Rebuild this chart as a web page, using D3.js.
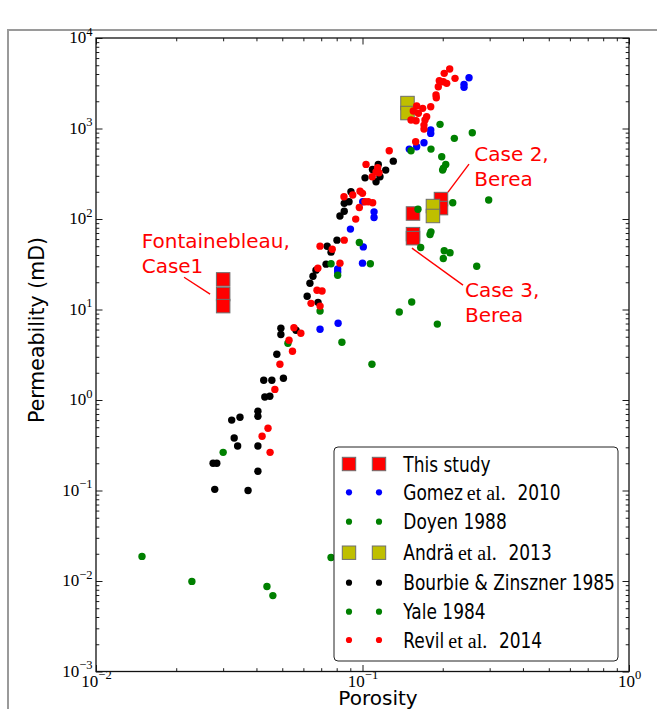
<!DOCTYPE html>
<html>
<head>
<meta charset="utf-8">
<script src="https://cdn.jsdelivr.net/npm/d3@7"></script>
<style>
  body { margin: 0; background: #fff; }
  svg { display: block; }
</style>
</head>
<body>
<svg id="chart" width="657" height="709"></svg>
<script>
// ---- data: [porosity (fraction), permeability (mD)] ----
const thisStudy = [
  [0.0300, 21.5], [0.0300, 14.8], [0.0300, 10.9],
  [0.1547, 115], [0.1547, 68], [0.1547, 61.4],
  [0.1970, 166], [0.1970, 132]
];
const gomez2010 = [
  [0.2510, 3639], [0.2404, 3076], [0.2404, 2850], [0.1803, 961], [0.1803, 883],
  [0.1701, 695], [0.1597, 628], [0.1498, 592], [0.1002, 155], [0.1105, 120],
  [0.1105, 104], [0.0901, 77.3], [0.1007, 49.2], [0.1000, 32.5], [0.0807, 28],
  [0.0807, 26], [0.0810, 7.05], [0.0693, 6.05]
];
const doyen1988 = [
  [0.1954, 1111], [0.2582, 897], [0.2211, 778], [0.1521, 567], [0.1807, 592],
  [0.1983, 487], [0.2053, 401], [0.1998, 347], [0.2012, 365], [0.2181, 151],
  [0.2975, 162], [0.1615, 128], [0.1807, 72.1], [0.1792, 67.5], [0.1653, 48.5],
  [0.2026, 44.5], [0.2130, 42.3], [0.2010, 36.6], [0.2683, 30.1]
];
const andra2013 = [
  [0.1475, 1910], [0.1475, 1482], [0.1838, 139], [0.1838, 108]
];
const bourbie1985 = [
  [0.1305, 436], [0.1146, 401], [0.1090, 353], [0.1222, 347], [0.1022, 285],
  [0.1124, 258], [0.1163, 293], [0.0905, 200], [0.0854, 149], [0.0890, 155],
  [0.0854, 122], [0.0823, 108], [0.0802, 58.4], [0.0737, 50], [0.0762, 43],
  [0.0730, 31.7], [0.0669, 27.2], [0.0652, 23.3], [0.0635, 19.5], [0.0620, 14],
  [0.0681, 12], [0.0563, 5.9], [0.0494, 6.2], [0.0494, 5.3], [0.0477, 3.2],
  [0.0505, 1.74], [0.0457, 1.65], [0.0426, 1.65], [0.0449, 1.1], [0.0430, 1.08],
  [0.0405, 0.75], [0.0405, 0.66], [0.0405, 0.31], [0.0405, 0.163], [0.0347, 0.644],
  [0.0340, 0.31], [0.0323, 0.6], [0.0330, 0.38], [0.0275, 0.2], [0.0284, 0.2],
  [0.0279, 0.103], [0.0372, 0.1]
];
const yale1984 = [
  [0.0973, 55.1], [0.1530, 12.1], [0.1374, 9.4], [0.1909, 6.9], [0.0837, 4.35],
  [0.1085, 2.48], [0.1070, 32], [0.0807, 23.9], [0.0762, 32], [0.0525, 4.24],
  [0.0300, 0.264], [0.01488, 0.0187], [0.0229, 0.0099], [0.0438, 0.0087],
  [0.0461, 0.0069], [0.0762, 0.0182], [0.0693, 9.6]
];
const revil2014 = [
  [0.2124, 4540], [0.2026, 4070], [0.2224, 3584], [0.1942, 3372], [0.2010, 3288],
  [0.2070, 3155], [0.1925, 2894], [0.1887, 2343], [0.1892, 2188], [0.1803, 1739],
  [0.1597, 1770], [0.1682, 1670], [0.1551, 1558], [0.1620, 1470], [0.1741, 1348],
  [0.1521, 1240], [0.1588, 1217], [0.1716, 1240], [0.1701, 1091], [0.1701, 985],
  [0.1583, 713], [0.1260, 567], [0.1031, 401], [0.1140, 368], [0.1124, 332],
  [0.1153, 324], [0.1088, 293], [0.0852, 176], [0.0919, 184], [0.0979, 203],
  [0.1000, 192], [0.1022, 155], [0.1051, 155], [0.1092, 151], [0.0973, 134],
  [0.0943, 99.7], [0.0854, 58.4], [0.0693, 50.1], [0.0770, 46.4], [0.0823, 32.5],
  [0.0680, 28.6], [0.0675, 16.3], [0.0705, 16], [0.0641, 11.7], [0.0693, 10.9],
  [0.0587, 5.47], [0.0553, 6.3], [0.0530, 4.57], [0.0546, 3.46], [0.0490, 2.48],
  [0.0469, 1.31], [0.0442, 0.487], [0.0420, 0.397], [0.0450, 0.264]
];

const seriesNames = [
  "This study", "Gomez et al. 2010", "Doyen 1988", "Andrä et al. 2013",
  "Bourbie & Zinszner 1985", "Yale 1984", "Revil et al. 2014"
];
const xTickValues = [0.01, 0.1, 1];
const yTickValues = [0.001, 0.01, 0.1, 1, 10, 100, 1000, 10000];

// annotation text anchors and leader lines, in data units
const annotations = [
  { lines: ["Fontainebleau,", "Case1"], at: [0.01484, 48],  from: [0.0214, 22.7], to: [0.0268, 14.8] },
  { lines: ["Case 2,", "Berea"],        at: [0.2628, 436],  from: [0.251, 404],   to: [0.2093, 198] },
  { lines: ["Case 3,", "Berea"],        at: [0.2424, 13.8], from: [0.1533, 47.6], to: [0.2383, 18.6] }
];

// ---- series styling (drawing order = legend order) ----
const series = [
  { data: thisStudy,  shape: "square", color: "#ff0000" },
  { data: gomez2010,  shape: "dot",    color: "#0000ff" },
  { data: doyen1988,  shape: "dot",    color: "#008000" },
  { data: andra2013,  shape: "square", color: "#bfbf00" },
  { data: bourbie1985,shape: "dot",    color: "#000000" },
  { data: yale1984,   shape: "dot",    color: "#008000" },
  { data: revil2014,  shape: "dot",    color: "#ff0000" }
].map((s, i) => ({ ...s, name: seriesNames[i] }));

const W = 657, H = 709;
const plot = { left: 96, right: 629, top: 38, bottom: 671.5 };
const SQ = 13.5, DOT_R = 3.7;

const x = d3.scaleLog().domain([0.01, 1]).range([plot.left, plot.right]);
const y = d3.scaleLog().domain([0.001, 10000]).range([plot.bottom, plot.top]);

const svg = d3.select("#chart");

// outer frame
svg.append("rect")
  .attr("x", 8).attr("y", 30).attr("width", W).attr("height", H)
  .attr("fill", "none").attr("stroke", "#9a9a9a").attr("stroke-width", 2);

// clip for markers
svg.append("defs").append("clipPath").attr("id", "plotClip")
  .append("rect")
  .attr("x", plot.left).attr("y", plot.top)
  .attr("width", plot.right - plot.left).attr("height", plot.bottom - plot.top);

// ---- ticks (inward, on all four sides) ----
function minorsOf(domain) {
  const out = [];
  const lo = Math.round(Math.log10(domain[0])), hi = Math.round(Math.log10(domain[1]));
  for (let e = lo; e < hi; e++) for (let m = 2; m <= 9; m++) out.push(m * Math.pow(10, e));
  return out;
}
const xMinors = minorsOf(x.domain());
const yMinors = minorsOf(y.domain());
const MAJ = 6.5, MIN = 3.3;

function tickAxis(axisFn, scale, values, size, translate) {
  const g = svg.append("g").attr("transform", translate)
    .call(axisFn(scale).tickValues(values).tickSize(-size).tickFormat(() => ""));
  g.select(".domain").remove();
  g.selectAll(".tick line").attr("stroke", "#000").attr("stroke-width", 0.9);
  return g;
}
const gxB = tickAxis(d3.axisBottom, x, xTickValues, MAJ, `translate(0,${plot.bottom})`);
tickAxis(d3.axisBottom, x, xMinors, MIN, `translate(0,${plot.bottom})`);
tickAxis(d3.axisTop, x, xTickValues, MAJ, `translate(0,${plot.top})`);
tickAxis(d3.axisTop, x, xMinors, MIN, `translate(0,${plot.top})`);
const gyL = tickAxis(d3.axisLeft, y, yTickValues, MAJ, `translate(${plot.left},0)`);
tickAxis(d3.axisLeft, y, yMinors, MIN, `translate(${plot.left},0)`);
tickAxis(d3.axisRight, y, yTickValues, MAJ, `translate(${plot.right},0)`);
tickAxis(d3.axisRight, y, yMinors, MIN, `translate(${plot.right},0)`);

// power-of-ten tick labels
function powerLabel(textSel) {
  textSel.each(function (v) {
    const t = d3.select(this).text(null)
      .attr("fill", "#000")
      .attr("font-family", "'Liberation Serif', 'DejaVu Serif', serif")
      .attr("font-size", 17);
    const e = Math.round(Math.log10(v));
    t.append("tspan").text("10");
    t.append("tspan").attr("font-size", 12.5).attr("dy", -7.4)
      .text(e < 0 ? "\u2212" + (-e) : String(e));
  });
}
gxB.selectAll(".tick text")
  .attr("y", 15.2).attr("dy", 0).attr("text-anchor", "middle")
  .call(powerLabel);
gyL.selectAll(".tick text")
  .attr("x", -3.5).attr("dy", 0).attr("y", 4.6).attr("text-anchor", "end")
  .call(powerLabel);

// ---- markers ----
const marks = svg.append("g").attr("clip-path", "url(#plotClip)");
series.forEach(s => {
  const g = marks.append("g");
  if (s.shape === "square") {
    g.selectAll("rect").data(s.data).join("rect")
      .attr("x", d => x(d[0]) - SQ / 2).attr("y", d => y(d[1]) - SQ / 2)
      .attr("width", SQ).attr("height", SQ)
      .attr("fill", s.color).attr("stroke", "#6e6e6e").attr("stroke-width", 1);
  } else {
    g.selectAll("circle").data(s.data).join("circle")
      .attr("cx", d => x(d[0])).attr("cy", d => y(d[1])).attr("r", DOT_R)
      .attr("fill", s.color);
  }
});

// spines
svg.append("rect")
  .attr("x", plot.left).attr("y", plot.top)
  .attr("width", plot.right - plot.left).attr("height", plot.bottom - plot.top)
  .attr("fill", "none").attr("stroke", "#111").attr("stroke-width", 1.3);

// ---- annotations ----
const ann = svg.append("g");
annotations.forEach(a => {
  ann.append("line")
    .attr("x1", x(a.from[0])).attr("y1", y(a.from[1]))
    .attr("x2", x(a.to[0])).attr("y2", y(a.to[1]))
    .attr("stroke", "#ff0000").attr("stroke-width", 1.4);
  const t = ann.append("text")
    .attr("x", x(a.at[0])).attr("y", y(a.at[1]))
    .attr("fill", "#ff0000")
    .attr("font-family", "'DejaVu Sans', sans-serif")
    .attr("font-size", 20);
  a.lines.forEach((ln, i) => {
    t.append("tspan").attr("x", x(a.at[0])).attr("dy", i === 0 ? 0 : 25).text(ln);
  });
});

// ---- axis titles ----
svg.append("text")
  .attr("x", 378).attr("y", 705).attr("text-anchor", "middle")
  .attr("font-family", "'DejaVu Sans', sans-serif").attr("font-size", 20)
  .attr("fill", "#000").text("Porosity");
svg.append("text")
  .attr("transform", "translate(44,330) rotate(-90)").attr("text-anchor", "middle")
  .attr("font-family", "'DejaVu Sans', sans-serif").attr("font-size", 20.5)
  .attr("fill", "#000").text("Permeability (mD)");

// ---- legend ----
const leg = { x: 334, y: 447, w: 284, h: 214, rows: [464, 492.3, 521.7, 552.7, 582.7, 611.7, 640],
              m1: 349, m2: 379, textX: 403.3 };
const lg = svg.append("g");
lg.append("rect")
  .attr("x", leg.x).attr("y", leg.y).attr("width", leg.w).attr("height", leg.h)
  .attr("rx", 4).attr("fill", "#fff").attr("stroke", "#222").attr("stroke-width", 1);

const SANS_SX = 0.81;
series.forEach((s, i) => {
  const cy = leg.rows[i];
  [leg.m1, leg.m2].forEach(mx => {
    if (s.shape === "square") {
      lg.append("rect").attr("x", mx - 6.7).attr("y", cy - 6.7).attr("width", 13.4).attr("height", 13.4)
        .attr("fill", s.color).attr("stroke", "#6e6e6e").attr("stroke-width", 1);
    } else {
      lg.append("circle").attr("cx", mx).attr("cy", cy).attr("r", 3.1).attr("fill", s.color);
    }
  });
  // split "et al." into the serif face
  const parts = [];
  const idx = s.name.indexOf("et al.");
  if (idx >= 0) {
    parts.push({ t: s.name.slice(0, idx).trim(), serif: false });
    parts.push({ t: "et al.", serif: true });
    parts.push({ t: s.name.slice(idx + 6).trim(), serif: false });
  } else {
    parts.push({ t: s.name, serif: false });
  }
  let cx = leg.textX;
  const base = cy + 7.6;
  parts.forEach(p => {
    const sx = p.serif ? 1 : SANS_SX;
    const t = lg.append("text")
      .attr("transform", `translate(${cx},${base}) scale(${sx},1)`)
      .attr("fill", "#000")
      .attr("font-family", p.serif ? "'Liberation Serif', serif" : "'DejaVu Sans', sans-serif")
      .attr("font-size", p.serif ? 20 : 21)
      .text(p.t);
    const w = t.node().getComputedTextLength() * sx;
    cx += w + (p.serif ? 11.7 : 4);
  });
});
</script>
</body>
</html>
